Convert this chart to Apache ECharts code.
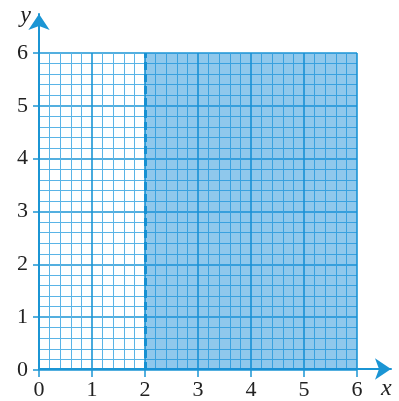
<!DOCTYPE html>
<html>
<head>
<meta charset="utf-8">
<script src="https://cdn.jsdelivr.net/npm/echarts@6/dist/echarts.min.js"></script>
<style>
  html, body { margin: 0; padding: 0; background: #fff; }
  #main { width: 399px; height: 401px; }
</style>
</head>
<body>
<div id="main"></div>
<script>
// axis ranges and ticks
const xRange = [0, 6]
const yRange = [0, 6]
const tickStep = 1
const minorParts = 5
// shaded region x > 2 (boundary dashed)
const shadeX = [2, 6]
const shadeY = [0, 6]
const boundaryX = 2

const blue = '#1b95d4'
const minorBlue = '#5ab4e6'
const serif = '"Liberation Serif", "DejaVu Serif", serif'

let chart = echarts.init(document.getElementById('main'))

const option = {
  animation: false,
  grid: [
    { left: 39, right: 42, top: 53, bottom: 30 },
    { left: 39, right: 8, top: 14, bottom: 30 }
  ],
  xAxis: [
    {
      gridIndex: 0,
      type: 'value',
      min: xRange[0],
      max: xRange[1],
      interval: tickStep,
      axisLine: { show: false },
      axisTick: { show: true, length: 7, lineStyle: { color: blue, width: 1.5 } },
      axisLabel: { margin: 9, color: '#222', fontSize: 22, fontFamily: serif },
      splitLine: { show: true, lineStyle: { color: blue, width: 1.6 } },
      minorTick: { show: false, splitNumber: minorParts },
      minorSplitLine: { show: true, lineStyle: { color: minorBlue, width: 1 } }
    },
    {
      gridIndex: 1,
      type: 'value',
      min: 0,
      max: 1,
      axisLine: {
        show: true,
        symbol: ['none', 'arrow'],
        symbolSize: [16, 16],
        lineStyle: { color: blue, width: 2 }
      },
      axisTick: { show: false },
      axisLabel: { show: false },
      splitLine: { show: false },
      name: 'x',
      nameLocation: 'end',
      nameGap: -10,
      nameTextStyle: {
        color: '#222', fontSize: 24, fontStyle: 'italic', fontFamily: serif,
        verticalAlign: 'top', padding: [8, 0, 0, 0]
      }
    }
  ],
  yAxis: [
    {
      gridIndex: 0,
      type: 'value',
      min: yRange[0],
      max: yRange[1],
      interval: tickStep,
      axisLine: { show: false },
      axisTick: { show: true, length: 6, lineStyle: { color: blue, width: 1.5 } },
      axisLabel: { margin: 11, color: '#222', fontSize: 22, fontFamily: serif },
      splitLine: { show: true, lineStyle: { color: blue, width: 1.6 } },
      minorTick: { show: false, splitNumber: minorParts },
      minorSplitLine: { show: true, lineStyle: { color: minorBlue, width: 1 } }
    },
    {
      gridIndex: 1,
      type: 'value',
      min: 0,
      max: 1,
      axisLine: {
        show: true,
        symbol: ['none', 'arrow'],
        symbolSize: [16, 16],
        lineStyle: { color: blue, width: 2 }
      },
      axisTick: { show: false },
      axisLabel: { show: false },
      splitLine: { show: false },
      name: 'y',
      nameLocation: 'end',
      nameGap: -14,
      nameTextStyle: {
        color: '#222', fontSize: 24, fontStyle: 'italic', fontFamily: serif,
        align: 'right', padding: [0, 8, 0, 0]
      }
    }
  ],
  series: [
    {
      type: 'line',
      xAxisIndex: 0,
      yAxisIndex: 0,
      data: [],
      silent: true,
      markArea: {
        silent: true,
        itemStyle: { color: 'rgba(20, 140, 215, 0.48)' },
        data: [[
          { xAxis: shadeX[0], yAxis: shadeY[0] },
          { xAxis: shadeX[1], yAxis: shadeY[1] }
        ]]
      },
      markLine: {
        silent: true,
        symbol: 'none',
        label: { show: false },
        lineStyle: { color: '#1690d2', width: 3, type: [8, 4] },
        data: [{ xAxis: boundaryX }]
      }
    }
  ]
}

chart.setOption(option)
</script>
</body>
</html>
